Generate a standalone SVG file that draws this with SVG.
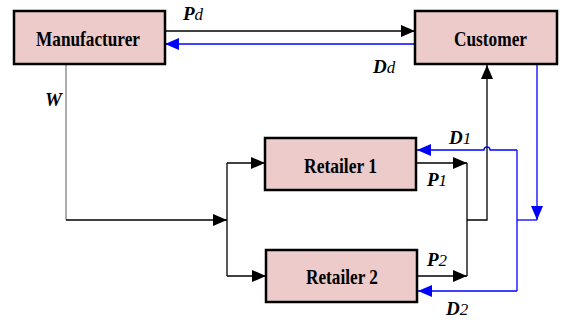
<svg xmlns="http://www.w3.org/2000/svg" width="563" height="320" viewBox="0 0 563 320">
<style>
.box{fill:#eccbca;stroke:#000;stroke-width:2.5}
.lbl{font-family:"Liberation Serif",serif;font-weight:bold;font-size:21px;fill:#000}
.k{fill:none;stroke:#000;stroke-width:1.3}
.g{fill:none;stroke:#808080;stroke-width:1.3}
.b{fill:none;stroke:#0000ff;stroke-width:1.3}
.v{font-family:"Liberation Serif",serif;font-style:italic;fill:#000}
.big{font-weight:bold;font-size:19px}
.sub{font-size:17px}
</style>
<defs>
<marker id="ak" markerUnits="userSpaceOnUse" markerWidth="14" markerHeight="12" refX="14" refY="6" orient="auto"><path d="M0,0 L14,6 L0,12 z" fill="#000"/></marker>
<marker id="ab" markerUnits="userSpaceOnUse" markerWidth="14" markerHeight="12" refX="14" refY="6" orient="auto"><path d="M0,0 L14,6 L0,12 z" fill="#0000ff"/></marker>
</defs>
<g id="connectors">
<path class="k" d="M165,31 H415" marker-end="url(#ak)"/>
<path class="b" d="M415,44 H165" marker-end="url(#ab)"/>
<path class="g" d="M66,64 V220"/>
<path class="k" d="M66,220 H227" marker-end="url(#ak)"/>
<path class="k" d="M227,163 V276"/>
<path class="k" d="M227,163 H265" marker-end="url(#ak)"/>
<path class="k" d="M227,276 H266" marker-end="url(#ak)"/>
<path class="k" d="M416,163 H467" marker-end="url(#ak)"/>
<path class="k" d="M417,276 H467" marker-end="url(#ak)"/>
<path class="k" d="M467,163 V276"/>
<path class="k" d="M467,220 H487 V65" marker-end="url(#ak)"/>
<path class="b" d="M537,64 V220" marker-end="url(#ab)"/>
<path class="b" d="M537,220 H517"/>
<path class="b" d="M517,150 V291"/>
<path class="b" d="M517,150 H490 A3,3 0 0 0 484,150 H417" marker-end="url(#ab)"/>
<path class="b" d="M517,291 H418" marker-end="url(#ab)"/>
</g>
<g id="manufacturer">
<rect class="box" x="14" y="11" width="151" height="53"/>
<text class="lbl" x="36" y="46" textLength="104" lengthAdjust="spacingAndGlyphs">Manufacturer</text>
</g>
<g id="customer">
<rect class="box" x="415" y="11" width="142" height="53"/>
<text class="lbl" x="454" y="46" textLength="73" lengthAdjust="spacingAndGlyphs">Customer</text>
</g>
<g id="retailer1">
<rect class="box" x="265" y="138" width="151" height="52"/>
<text class="lbl" x="304" y="173" textLength="73" lengthAdjust="spacingAndGlyphs">Retailer 1</text>
</g>
<g id="retailer2">
<rect class="box" x="266" y="250" width="151" height="52"/>
<text class="lbl" x="306" y="284" textLength="72" lengthAdjust="spacingAndGlyphs">Retailer 2</text>
</g>
<g id="labels">
<text class="v" x="183" y="20"><tspan class="big">P</tspan><tspan class="sub">d</tspan></text>
<text class="v" x="373" y="73"><tspan class="big">D</tspan><tspan class="sub">d</tspan></text>
<text class="v big" x="45" y="106">W</text>
<text class="v" x="449" y="144"><tspan class="big">D</tspan><tspan class="sub">1</tspan></text>
<text class="v" x="427" y="186"><tspan class="big">P</tspan><tspan class="sub">1</tspan></text>
<text class="v" x="427" y="266"><tspan class="big">P</tspan><tspan class="sub">2</tspan></text>
<text class="v" x="446" y="315"><tspan class="big">D</tspan><tspan class="sub">2</tspan></text>
</g>
</svg>
